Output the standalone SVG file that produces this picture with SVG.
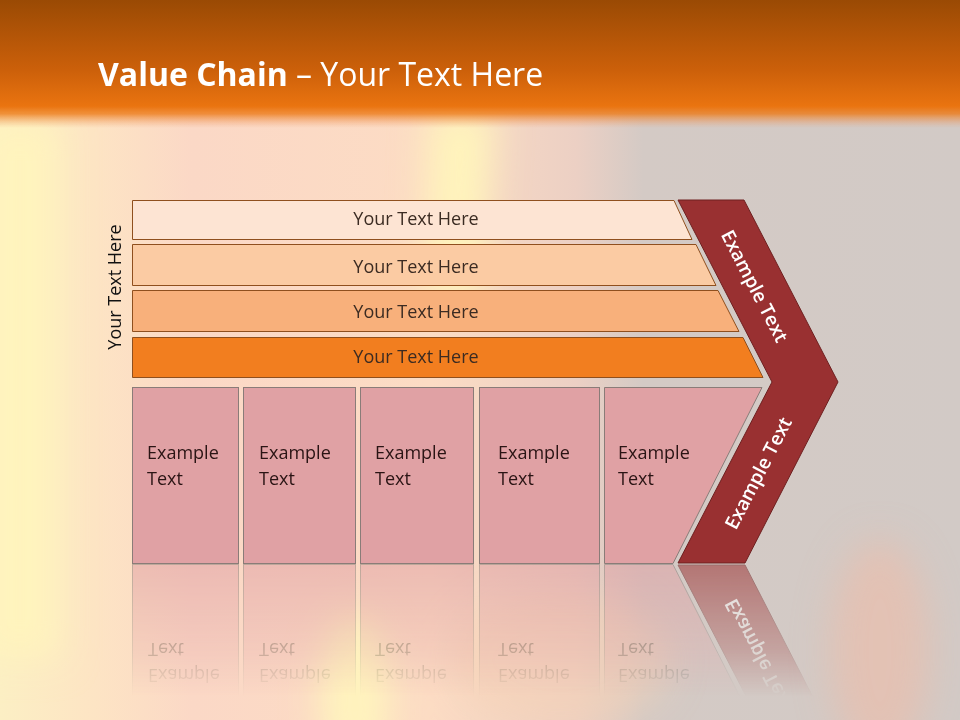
<svg xmlns="http://www.w3.org/2000/svg" width="960" height="720" viewBox="0 0 960 720">
<defs>
  <linearGradient id="bgH" x1="0" y1="0" x2="1" y2="0">
    <stop offset="0" stop-color="#fcefc4"/>
    <stop offset="0.1" stop-color="#fde4c4"/>
    <stop offset="0.2" stop-color="#fbd8c6"/>
    <stop offset="0.45" stop-color="#fcdcc4"/>
    <stop offset="0.6" stop-color="#ecd0c4"/>
    <stop offset="0.67" stop-color="#d4cac5"/>
    <stop offset="1" stop-color="#d2cac6"/>
  </linearGradient>
  <linearGradient id="hdr" x1="0" y1="0" x2="0" y2="1">
    <stop offset="0" stop-color="#9a4a04"/>
    <stop offset="0.55" stop-color="#cc600a"/>
    <stop offset="0.83" stop-color="#ea7410"/>
    <stop offset="0.89" stop-color="#ec7a18" stop-opacity="0.8"/>
    <stop offset="1" stop-color="#f2a070" stop-opacity="0"/>
  </linearGradient>
  <linearGradient id="fade" x1="0" y1="0" x2="0" y2="1">
    <stop offset="0" stop-color="#fff" stop-opacity="0.55"/>
    <stop offset="0.55" stop-color="#fff" stop-opacity="0.25"/>
    <stop offset="0.85" stop-color="#fff" stop-opacity="0"/>
  </linearGradient>
  <mask id="reflMask" maskUnits="userSpaceOnUse" x="0" y="564" width="960" height="156">
    <rect x="0" y="564" width="960" height="156" fill="url(#fade)"/>
  </mask>
  <filter id="blur" x="-50%" y="-50%" width="200%" height="200%">
    <feGaussianBlur stdDeviation="18"/>
  </filter>
  <style>
    .bar { stroke: #8f4f1e; stroke-width: 1; }
    .barTxt { font-family: "Open Sans", "Noto Sans", sans-serif; font-size: 18px; fill: #3b2b22; text-anchor: middle; }
    .box { fill: #e0a1a4; stroke: #8a7c78; stroke-width: 1; }
    .boxTxt { font-family: "Open Sans", "Noto Sans", sans-serif; font-size: 18px; fill: #2a1414; }
    .chev { fill: #993031; stroke: #6e2020; stroke-width: 1; }
    .chevTxt { font-family: "Open Sans", "Noto Sans", sans-serif; font-size: 19px; font-weight: 600; fill: #ffffff; text-anchor: middle; }
    .side { font-family: "Open Sans", "Noto Sans", sans-serif; font-size: 18px; fill: #111; text-anchor: middle; }
    .title { font-family: "Open Sans", "Noto Sans", sans-serif; font-size: 32px; fill: #ffffff; }
  </style>
</defs>

<!-- background -->
<rect x="0" y="0" width="960" height="720" fill="url(#bgH)"/>
<g filter="url(#blur)">
  <rect x="-20" y="120" width="80" height="540" fill="#fff4bc" opacity="0.9"/>
  <polygon points="430,110 495,110 480,300 425,300" fill="#fff6bb" opacity="0.95"/>
  <ellipse cx="355" cy="700" rx="35" ry="90" fill="#fff6bc" opacity="0.9"/>
  <ellipse cx="880" cy="650" rx="50" ry="110" fill="#eebca8" opacity="0.6"/>
  <ellipse cx="560" cy="660" rx="110" ry="70" fill="#f7d2b4" opacity="0.5"/>
</g>
<rect x="0" y="0" width="960" height="128" fill="url(#hdr)"/>

<text class="title" x="98" y="86"><tspan font-weight="700">Value Chain</tspan> – Your Text Here</text>

<!-- reflection -->
<g id="reflection" mask="url(#reflMask)">
  <g transform="translate(0,1128) scale(1,-1)">
    <rect class="box" x="132.5" y="387.5" width="106" height="176"/>
    <rect class="box" x="243.5" y="387.5" width="112" height="176"/>
    <rect class="box" x="360.5" y="387.5" width="113" height="176"/>
    <rect class="box" x="479.5" y="387.5" width="120" height="176"/>
    <polygon class="box" points="604.5,387.5 762,387.5 673,563.5 604.5,563.5"/>
    <polygon class="chev" points="772,382 838,382 745,563 678,563"/>
    <text class="boxTxt" x="148" y="459">Example</text><text class="boxTxt" x="148" y="485">Text</text>
    <text class="boxTxt" x="259" y="459">Example</text><text class="boxTxt" x="259" y="485">Text</text>
    <text class="boxTxt" x="375" y="459">Example</text><text class="boxTxt" x="375" y="485">Text</text>
    <text class="boxTxt" x="498" y="459">Example</text><text class="boxTxt" x="498" y="485">Text</text>
    <text class="boxTxt" x="618" y="459">Example</text><text class="boxTxt" x="618" y="485">Text</text>
    <text class="chevTxt" transform="translate(758,473) rotate(-62.7)" x="0" y="7">Example Text</text>
  </g>
</g>

<!-- side label -->
<text class="side" transform="translate(121,287) rotate(-90)">Your Text Here</text>

<g id="connectors"></g>

<!-- bars -->
<g id="bar1">
  <polygon class="bar" fill="#fde4d3" points="132.5,200.5 674,200.5 692,239.5 132.5,239.5"/>
  <text class="barTxt" x="416" y="225">Your Text Here</text>
</g>
<g id="bar2">
  <polygon class="bar" fill="#fbcba3" points="132.5,244.5 696,244.5 716,285.5 132.5,285.5"/>
  <text class="barTxt" x="416" y="273">Your Text Here</text>
</g>
<g id="bar3">
  <polygon class="bar" fill="#f8b07b" points="132.5,290.5 718,290.5 739,331.5 132.5,331.5"/>
  <text class="barTxt" x="416" y="318">Your Text Here</text>
</g>
<g id="bar4">
  <polygon class="bar" fill="#f27e1f" points="132.5,337.5 743,337.5 763,377.5 132.5,377.5"/>
  <text class="barTxt" x="416" y="363">Your Text Here</text>
</g>

<!-- boxes -->
<g id="box1">
  <rect class="box" x="132.5" y="387.5" width="106" height="176"/>
  <text class="boxTxt" x="147" y="459">Example</text><text class="boxTxt" x="147" y="485">Text</text>
</g>
<g id="box2">
  <rect class="box" x="243.5" y="387.5" width="112" height="176"/>
  <text class="boxTxt" x="259" y="459">Example</text><text class="boxTxt" x="259" y="485">Text</text>
</g>
<g id="box3">
  <rect class="box" x="360.5" y="387.5" width="113" height="176"/>
  <text class="boxTxt" x="375" y="459">Example</text><text class="boxTxt" x="375" y="485">Text</text>
</g>
<g id="box4">
  <rect class="box" x="479.5" y="387.5" width="120" height="176"/>
  <text class="boxTxt" x="498" y="459">Example</text><text class="boxTxt" x="498" y="485">Text</text>
</g>
<g id="box5">
  <polygon class="box" points="604.5,387.5 762,387.5 673,563.5 604.5,563.5"/>
  <text class="boxTxt" x="618" y="459">Example</text><text class="boxTxt" x="618" y="485">Text</text>
</g>

<!-- chevron -->
<g id="chevron">
  <polygon class="chev" points="678,200 744,200 838,382 745,563 678,563 772,382"/>
  <text class="chevTxt" transform="translate(755,286) rotate(62.7)" x="0" y="7">Example Text</text>
  <text class="chevTxt" transform="translate(758,473) rotate(-62.7)" x="0" y="7">Example Text</text>
</g>
</svg>
